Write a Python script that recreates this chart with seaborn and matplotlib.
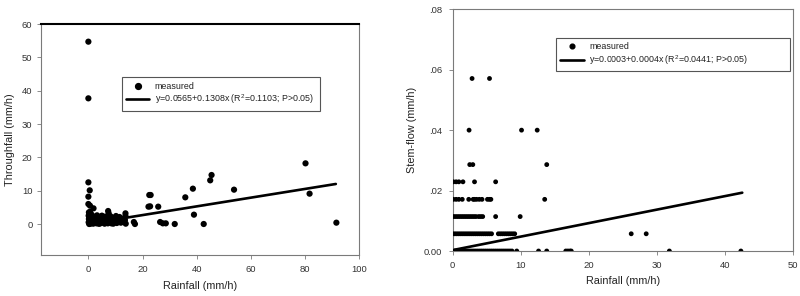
import matplotlib
matplotlib.use("Agg")
import matplotlib.pyplot as plt
import seaborn as sns
import pandas as pd
from matplotlib.lines import Line2D

# ---------------- data: left panel (throughfall) ----------------
tf_rain = [0.0, 0.0, 0.0, 0.5, 0.0, 0.0, 0.6, 1.9, 7.3, 13.7, 13.7, 10.2,
           0.2, 0.3, 0.1, 0.4, 0.2, 0.5, 0.1, 0.3, 1.0, 1.5, 2.0, 2.5, 3.0, 3.5,
           4.0, 4.5, 5.0, 5.5, 6.0, 6.5, 7.0, 7.5, 8.0, 8.5, 9.0, 9.5, 10.0, 10.5,
           11.0, 12.0, 12.5, 1.2, 2.2, 3.2, 4.2, 5.2, 6.2, 7.2, 8.2, 9.2, 0.8, 1.8,
           2.8, 3.8, 4.8, 5.8, 6.8, 0.6, 1.6, 11.5, 12.8, 13.5, 13.8, 16.8, 17.2,
           22.5, 23.0, 22.2, 22.8, 25.8, 26.5, 27.5, 28.6, 31.9, 35.8, 38.6, 39.0,
           42.6, 45.0, 45.5, 53.8, 80.2, 81.7, 91.6]
tf_value = [54.7, 37.7, 12.5, 10.1, 8.2, 6.0, 5.5, 4.7, 3.9, 3.2, 2.4, 2.4,
            3.5, 3.0, 2.5, 2.0, 1.5, 1.0, 0.5, 0.0, 0.3, 1.2, 0.5, 2.0, 0.2, 1.0,
            1.8, 0.4, 2.5, 0.8, 0.1, 1.5, 0.5, 3.2, 1.0, 0.2, 1.7, 0.6, 2.0, 0.3,
            1.0, 0.4, 1.5, 2.8, 1.8, 2.6, 0.1, 1.3, 2.2, 0.2, 2.3, 0.1, 0.1, 0.1,
            0.9, 0.1, 0.9, 0.3, 0.9, 3.6, 2.3, 2.1, 0.8, 1.2, 0.1, 0.6, 0.0,
            8.7, 8.7, 5.2, 5.3, 5.2, 0.6, 0.2, 0.2, 0.0, 8.0, 10.6, 2.8,
            0.0, 13.1, 14.7, 10.3, 18.2, 9.1, 0.4]
tf_fit_x = [0.0, 91.4]
tf_fit_y = [0.0565, 12.01]

# ---------------- data: right panel (stem-flow) ----------------
sf_rain = [2.84, 5.4,
           2.4, 10.1, 12.4,
           2.5, 2.95, 13.8,
           0.1, 0.5, 0.9, 1.5, 3.2, 6.3,
           0.1, 0.5, 0.9, 1.4, 2.35, 3.0, 3.2, 3.5, 3.9, 4.3, 5.1, 5.4, 5.6, 13.5,
           0.1, 0.4, 0.7, 1.0, 1.3, 1.6, 1.9, 2.2, 2.5, 2.8, 3.1, 3.4, 3.8, 4.1, 4.4, 6.3, 9.9,
           0.0, 0.3, 0.6, 0.9, 1.2, 1.5, 1.8, 2.1, 2.4, 2.7, 3.0, 3.3, 3.6, 3.9, 4.2, 4.5,
           4.8, 5.1, 5.4, 5.7, 6.7, 7.0, 7.3, 7.6, 7.9, 8.2, 8.5, 8.8, 9.1, 26.2, 28.4,
           0.0, 0.3, 0.6, 0.9, 1.2, 1.5, 1.8, 2.1, 2.4, 2.7, 3.0, 3.3, 3.6, 3.9, 4.2, 4.5,
           4.8, 5.1, 5.4, 5.7, 6.0, 6.3, 6.6, 6.9, 7.2, 7.5, 7.8, 8.1, 8.4, 8.7, 9.4,
           12.6, 13.8, 16.6, 16.9, 17.2, 17.4, 31.8, 42.3]
sf_value = [0.0571, 0.0571,
            0.04, 0.04, 0.04,
            0.0286, 0.0286, 0.0286,
            0.0229, 0.0229, 0.0229, 0.0229, 0.0229, 0.0229,
            0.0171, 0.0171, 0.0171, 0.0171, 0.0171, 0.0171, 0.0171, 0.0171, 0.0171, 0.0171,
            0.0171, 0.0171, 0.0171, 0.0171,
            0.0114, 0.0114, 0.0114, 0.0114, 0.0114, 0.0114, 0.0114, 0.0114, 0.0114, 0.0114,
            0.0114, 0.0114, 0.0114, 0.0114, 0.0114, 0.0114, 0.0114,
            0.0057, 0.0057, 0.0057, 0.0057, 0.0057, 0.0057, 0.0057, 0.0057, 0.0057, 0.0057,
            0.0057, 0.0057, 0.0057, 0.0057, 0.0057, 0.0057, 0.0057, 0.0057, 0.0057, 0.0057,
            0.0057, 0.0057, 0.0057, 0.0057, 0.0057, 0.0057, 0.0057, 0.0057, 0.0057, 0.0057, 0.0057,
            0.0, 0.0, 0.0, 0.0, 0.0, 0.0, 0.0, 0.0, 0.0, 0.0, 0.0, 0.0, 0.0, 0.0, 0.0, 0.0,
            0.0, 0.0, 0.0, 0.0, 0.0, 0.0, 0.0, 0.0, 0.0, 0.0, 0.0, 0.0, 0.0, 0.0, 0.0,
            0.0, 0.0, 0.0, 0.0, 0.0, 0.0, 0.0, 0.0]
sf_fit_x = [0.0, 42.5]
sf_fit_y = [0.0003, 0.0193]

# tick labels
tf_xticks = [0, 20, 40, 60, 80, 100]
tf_yticks = [0, 10, 20, 30, 40, 50, 60]
sf_xticks = [0, 10, 20, 30, 40, 50]
sf_yticks = [0.0, 0.02, 0.04, 0.06, 0.08]
sf_ylabels = ["0.00", ".02", ".04", ".06", ".08"]

tf_legend = ["measured", "y=0.0565+0.1308x (R$^2$=0.1103; P>0.05)"]
sf_legend = ["measured", "y=0.0003+0.0004x (R$^2$=0.0441; P>0.05)"]

# ---------------- figure ----------------
sns.set_style("ticks")
plt.rcParams["font.family"] = ["Liberation Sans", "DejaVu Sans"]
plt.rcParams["mathtext.fontset"] = "custom"
plt.rcParams["mathtext.rm"] = "Liberation Sans"

fig = plt.figure(figsize=(8.0, 2.96), dpi=100)
ax1 = fig.add_axes([0.0509, 0.1385, 0.398, 0.7804])
ax2 = fig.add_axes([0.5659, 0.152, 0.4258, 0.8166])

tf_df = pd.DataFrame({"rain": tf_rain, "val": tf_value})
sf_df = pd.DataFrame({"rain": sf_rain, "val": sf_value})
tf_fit = pd.DataFrame({"x": tf_fit_x, "y": tf_fit_y})
sf_fit = pd.DataFrame({"x": sf_fit_x, "y": sf_fit_y})

spine_gray = "#7a7a7a"
tick_fs = 6.8
label_fs = 7.8
leg_fs = 6.4

# left panel
sns.scatterplot(data=tf_df, x="rain", y="val", ax=ax1, color="black", s=20,
                edgecolor="none", zorder=3, legend=False)
sns.lineplot(data=tf_fit, x="x", y="y", ax=ax1, color="black", linewidth=1.9,
             zorder=2, legend=False)
ax1.set_xlim(-17.6, 100)
ax1.set_ylim(-9.3, 60)
ax1.set_xticks(tf_xticks)
ax1.set_yticks(tf_yticks)
ax1.set_xlabel("Rainfall (mm/h)", fontsize=label_fs, color="#222222", labelpad=5)
ax1.set_ylabel("Throughfall (mm/h)", fontsize=label_fs, color="#222222", labelpad=5)
for s in ["left", "right", "bottom"]:
    ax1.spines[s].set_color(spine_gray)
    ax1.spines[s].set_linewidth(0.8)
ax1.spines["top"].set_color("black")
ax1.spines["top"].set_linewidth(1.5)
ax1.spines["top"].set_visible(True)
ax1.spines["right"].set_visible(True)

# right panel
sns.scatterplot(data=sf_df, x="rain", y="val", ax=ax2, color="black", s=12,
                edgecolor="none", zorder=3, legend=False)
sns.lineplot(data=sf_fit, x="x", y="y", ax=ax2, color="black", linewidth=1.9,
             zorder=2, legend=False)
ax2.set_xlim(0, 50)
ax2.set_ylim(0, 0.08)
ax2.set_xticks(sf_xticks)
ax2.set_yticks(sf_yticks)
ax2.set_yticklabels(sf_ylabels)
ax2.set_xlabel("Rainfall (mm/h)", fontsize=label_fs, color="#222222", labelpad=4)
ax2.set_ylabel("Stem-flow (mm/h)", fontsize=label_fs, color="#222222", labelpad=5)
for s in ["left", "right", "bottom", "top"]:
    ax2.spines[s].set_visible(True)
    ax2.spines[s].set_color(spine_gray)
    ax2.spines[s].set_linewidth(0.8)

for ax in (ax1, ax2):
    ax.tick_params(axis="both", labelsize=tick_fs, colors="#333333", length=3,
                   width=0.6, direction="out")
    ax.tick_params(axis="both", color=spine_gray)
    ax.tick_params(axis="x", pad=4.5)
    ax.set_clip_on(False)
ax1.tick_params(axis="y", pad=3)
ax2.tick_params(axis="y", pad=4.5)


def make_legend(ax, labels, anchor, msize):
    handles = [
        Line2D([], [], linestyle="none", marker="o", color="black", markersize=msize),
        Line2D([], [], color="black", linewidth=1.9),
    ]
    leg = ax.legend(handles, labels, loc="upper left", bbox_to_anchor=anchor,
                    mode="expand", fontsize=leg_fs, frameon=True, fancybox=False,
                    edgecolor="#555555", framealpha=1, borderpad=0.5,
                    handlelength=2.6, handletextpad=0.6, labelspacing=0.2,
                    borderaxespad=0)
    leg.get_frame().set_linewidth(0.8)
    for t in leg.get_texts():
        t.set_color("#222222")
    return leg


make_legend(ax1, tf_legend, (0.2545, 0.635, 0.623, 0.134), 4.2)
make_legend(ax2, sf_legend, (0.3033, 0.728, 0.687, 0.1545), 3.4)

fig.savefig("out.png", dpi=100)
